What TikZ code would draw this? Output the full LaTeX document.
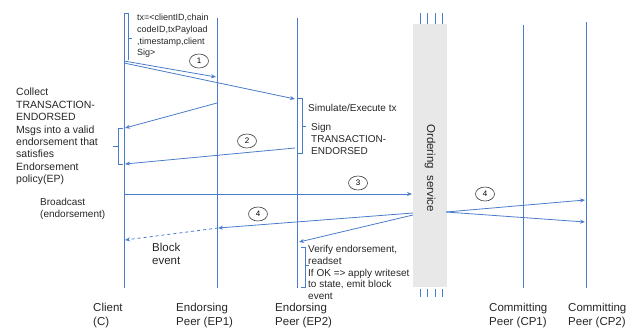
\documentclass[tikz,border=0pt]{standalone}
\usepackage{fontspec}
\setmainfont{Liberation Sans}
\usetikzlibrary{arrows.meta,shapes.geometric}
\definecolor{lineblue}{RGB}{74,124,204}
\definecolor{boxgray}{RGB}{232,232,232}
\tikzstyle{life}=[draw=lineblue,line width=0.8pt]
\tikzstyle{msg}=[draw=lineblue,line width=0.8pt,
                 -{Stealth[length=5pt,width=4pt]}]
\tikzstyle{brack}=[draw=lineblue,line width=0.6pt]
\tikzstyle{num}=[ellipse,draw=black!75,line width=0.6pt,inner sep=0pt,
                 minimum width=19pt,minimum height=14pt,
                 font=\fontsize{8}{9}\selectfont]
\tikzstyle{note}=[align=left,anchor=north west,inner sep=0pt,text=black!85,
                  font=\fontsize{10}{12.2}\selectfont]
\tikzstyle{who}=[note,font=\fontsize{11.5}{14}\selectfont]

\begin{document}
\begin{tikzpicture}[x=1pt,y=-1pt]
    \useasboundingbox (0,0) rectangle (636,327);
    % ordering service
    \node (os) at (430,155.5) [rectangle,fill=boxgray,inner sep=0pt,
        minimum width=34pt,minimum height=263pt]{};
    \node (ost) at (430,168) [rotate=-90,text=black!85,
        font=\fontsize{11.5}{13}\selectfont]{Ordering\ \ service};
    \foreach \x in {420,427,435,442} {
      \draw[brack] (\x,13) -- (\x,24);
      \draw[brack] (\x,289) -- (\x,297);
    }
    % lifelines
    \coordinate (Ct) at (124,14);  \coordinate (Cb) at (124,288);
    \coordinate (E1t) at (217,18); \coordinate (E1b) at (217,288);
    \coordinate (E2t) at (297,18); \coordinate (E2b) at (297,288);
    \coordinate (P1t) at (523,25); \coordinate (P1b) at (523,288);
    \coordinate (P2t) at (586,22); \coordinate (P2b) at (586,288);
    \draw[life] (Ct) -- (Cb);
    \draw[life] (E1t) -- (E1b);
    \draw[life] (E2t) -- (E2b);
    \draw[life] (P1t) -- (P1b);
    \draw[life] (P2t) -- (P2b);
    % message ends
    \coordinate (c1) at (124,61);  \coordinate (e1a) at (216,77);
    \coordinate (c2) at (124,63);  \coordinate (e2a) at (295,99);
    \coordinate (e1b) at (217,103); \coordinate (c3) at (125,128);
    \coordinate (e2b) at (295,148); \coordinate (c4) at (125,164);
    \coordinate (c5) at (124,194); \coordinate (o1) at (412,194);
    \coordinate (o2) at (413,213); \coordinate (e1c) at (218,228);
    \coordinate (c6) at (125,240);
    \coordinate (o3) at (413,215); \coordinate (e2c) at (299,242);
    \coordinate (o4) at (446,212);
    \coordinate (p2a) at (585,200); \coordinate (p2b) at (585,222);
    \draw[msg] (c1) -- (e1a);
    \draw[msg] (c2) -- (e2a);
    \draw[msg] (e1b) -- (c3);
    \draw[msg] (e2b) -- (c4);
    \draw[msg] (c5) -- (o1);
    \draw[msg] (o2) -- (e1c);
    \draw[msg,dashed] (e1c) -- (c6);
    \draw[msg] (o3) -- (e2c);
    \draw[msg] (o4) -- (p2a);
    \draw[msg] (o4) -- (p2b);
    % step numbers
    \node (n1) at (199,61) [num]{1};
    \node (n2) at (247,141) [num]{2};
    \node (n3) at (358,183) [num]{3};
    \node (n4a) at (258,214) [num]{4};
    \node (n4b) at (485,194) [num]{4};
    % brackets
    \draw[brack] (124,13) -- (128,13) -- (128,60);
    \draw[brack] (128,38) -- (132,38);
    \draw[brack] (123,128) -- (118,128) -- (118,164) -- (123,164);
    \draw[brack] (118,146) -- (113,146);
    \draw[brack] (297,98) -- (302,98) -- (302,153) -- (297,153);
    \draw[brack] (302,126) -- (306,126);
    \draw[brack] (301,247) -- (305,247) -- (305,287) -- (301,287);
    \draw[brack] (305,265) -- (309,265);
    % notes
    \node (tx) at (137,14) [note,font=\fontsize{9}{11.7}\selectfont]
        {tx=<clientID,chain\\codeID,txPayload\\,timestamp,client\\Sig>};
    \node (col) at (16,88) [note,font=\fontsize{10.5}{12.4}\selectfont]
        {Collect\\TRANSACTION-\\ENDORSED\\Msgs into a valid\\endorsement that\\
         satisfies\\Endorsement\\policy(EP)};
    \node (sim) at (308,104) [note]{Simulate/Execute tx};
    \node (sig) at (311,123) [note]{Sign\\TRANSACTION-\\ENDORSED};
    \node (bc) at (40,198) [note]{Broadcast\\(endorsement)};
    \node (blk) at (152,243) [note,font=\fontsize{11.5}{13.3}\selectfont]
        {Block\\event};
    \node (ver) at (308,245) [note,font=\fontsize{10}{11.8}\selectfont]
        {Verify endorsement,\\readset\\If OK => apply writeset\\
         to state, emit block\\event};
    % participants
    \node (cl) at (93,302.5) [who]{Client\\(C)};
    \node (ep1l) at (176,302.5) [who]{Endorsing\\Peer (EP1)};
    \node (ep2l) at (275,302.5) [who]{Endorsing\\Peer (EP2)};
    \node (cp1l) at (489,302.5) [who]{Committing\\Peer (CP1)};
    \node (cp2l) at (568,302.5) [who]{Committing\\Peer (CP2)};
  \end{tikzpicture}
\end{document}
